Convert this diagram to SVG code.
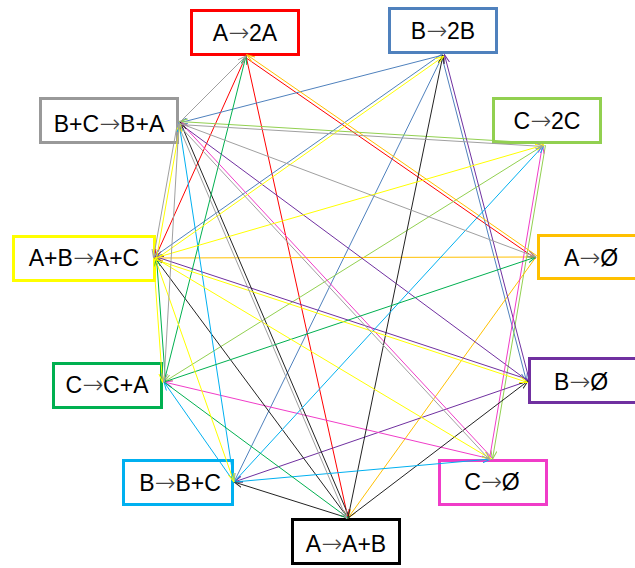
<svg xmlns="http://www.w3.org/2000/svg" width="635" height="568" viewBox="0 0 635 568">
<style>
.box{fill:#ffffff;stroke-width:3}
.lbl{font-family:"Liberation Sans",Arial,sans-serif;font-size:23px;text-anchor:middle;fill:#000}
.arw{font-family:"DejaVu Sans",sans-serif;font-size:25px;font-weight:200;fill:#444}
#connectors line{stroke-width:1;fill:none}
.r{stroke:#ff0000}.b{stroke:#4f81bd}.lg{stroke:#92d050}.o{stroke:#ffc000}.p{stroke:#7030a0}
.m{stroke:#f03cc8}.k{stroke:#222222}.c{stroke:#00b0f0}.g{stroke:#00b050}.y{stroke:#ffff00}.gr{stroke:#a0a0a0}
</style>
<defs>
<marker id="ar" viewBox="0 0 9 7" refX="8.5" refY="3.5" markerWidth="9" markerHeight="7" markerUnits="userSpaceOnUse" orient="auto"><path d="M0,0.5 L8.5,3.5 L0,6.5" fill="none" stroke="#ff0000"/></marker>
<marker id="ab" viewBox="0 0 9 7" refX="8.5" refY="3.5" markerWidth="9" markerHeight="7" markerUnits="userSpaceOnUse" orient="auto"><path d="M0,0.5 L8.5,3.5 L0,6.5" fill="none" stroke="#4f81bd"/></marker>
<marker id="alg" viewBox="0 0 9 7" refX="8.5" refY="3.5" markerWidth="9" markerHeight="7" markerUnits="userSpaceOnUse" orient="auto"><path d="M0,0.5 L8.5,3.5 L0,6.5" fill="none" stroke="#92d050"/></marker>
<marker id="ao" viewBox="0 0 9 7" refX="8.5" refY="3.5" markerWidth="9" markerHeight="7" markerUnits="userSpaceOnUse" orient="auto"><path d="M0,0.5 L8.5,3.5 L0,6.5" fill="none" stroke="#ffc000"/></marker>
<marker id="ap" viewBox="0 0 9 7" refX="8.5" refY="3.5" markerWidth="9" markerHeight="7" markerUnits="userSpaceOnUse" orient="auto"><path d="M0,0.5 L8.5,3.5 L0,6.5" fill="none" stroke="#7030a0"/></marker>
<marker id="am" viewBox="0 0 9 7" refX="8.5" refY="3.5" markerWidth="9" markerHeight="7" markerUnits="userSpaceOnUse" orient="auto"><path d="M0,0.5 L8.5,3.5 L0,6.5" fill="none" stroke="#f03cc8"/></marker>
<marker id="ak" viewBox="0 0 9 7" refX="8.5" refY="3.5" markerWidth="9" markerHeight="7" markerUnits="userSpaceOnUse" orient="auto"><path d="M0,0.5 L8.5,3.5 L0,6.5" fill="none" stroke="#222222"/></marker>
<marker id="ac" viewBox="0 0 9 7" refX="8.5" refY="3.5" markerWidth="9" markerHeight="7" markerUnits="userSpaceOnUse" orient="auto"><path d="M0,0.5 L8.5,3.5 L0,6.5" fill="none" stroke="#00b0f0"/></marker>
<marker id="ag" viewBox="0 0 9 7" refX="8.5" refY="3.5" markerWidth="9" markerHeight="7" markerUnits="userSpaceOnUse" orient="auto"><path d="M0,0.5 L8.5,3.5 L0,6.5" fill="none" stroke="#00b050"/></marker>
<marker id="ay" viewBox="0 0 9 7" refX="8.5" refY="3.5" markerWidth="9" markerHeight="7" markerUnits="userSpaceOnUse" orient="auto"><path d="M0,0.5 L8.5,3.5 L0,6.5" fill="none" stroke="#ffff00"/></marker>
<marker id="agr" viewBox="0 0 9 7" refX="8.5" refY="3.5" markerWidth="9" markerHeight="7" markerUnits="userSpaceOnUse" orient="auto"><path d="M0,0.5 L8.5,3.5 L0,6.5" fill="none" stroke="#a0a0a0"/></marker>
</defs>
<rect width="635" height="568" fill="#ffffff"/>
<g id="nodes">
<g id="n1"><rect class="box" x="191.5" y="10.5" width="107" height="44" stroke="#ff0000"/><text class="lbl" x="245" y="41">A<tspan class="arw">→</tspan>2A</text></g>
<g id="n2"><rect class="box" x="389.5" y="8.5" width="107" height="44" stroke="#4f81bd"/><text class="lbl" x="443" y="39">B<tspan class="arw">→</tspan>2B</text></g>
<g id="n3"><rect class="box" x="493.5" y="98.5" width="107" height="44" stroke="#92d050"/><text class="lbl" x="547" y="129">C<tspan class="arw">→</tspan>2C</text></g>
<g id="n4"><rect class="box" x="538.5" y="235.5" width="110" height="43" stroke="#ffc000"/><text class="lbl" x="591" y="266">A<tspan class="arw">→</tspan>Ø</text></g>
<g id="n5"><rect class="box" x="529.5" y="358.5" width="110" height="44" stroke="#7030a0"/><text class="lbl" x="581" y="390">B<tspan class="arw">→</tspan>Ø</text></g>
<g id="n6"><rect class="box" x="439.5" y="460.5" width="107" height="44" stroke="#f03cc8"/><text class="lbl" x="492" y="490">C<tspan class="arw">→</tspan>Ø</text></g>
<g id="n7"><rect class="box" x="292.5" y="519.5" width="107" height="44" stroke="#000000"/><text class="lbl" x="346" y="552">A<tspan class="arw">→</tspan>A+B</text></g>
<g id="n8"><rect class="box" x="123.5" y="460.5" width="109" height="44" stroke="#00b0f0"/><text class="lbl" x="180" y="491">B<tspan class="arw">→</tspan>B+C</text></g>
<g id="n9"><rect class="box" x="53.5" y="363.5" width="108" height="44" stroke="#00b050"/><text class="lbl" x="107" y="393">C<tspan class="arw">→</tspan>C+A</text></g>
<g id="n10"><rect class="box" x="13.5" y="236.5" width="141" height="44" stroke="#ffff00"/><text class="lbl" x="84" y="266">A+B<tspan class="arw">→</tspan>A+C</text></g>
<g id="n11"><rect class="box" x="40.5" y="98.5" width="137" height="44" stroke="#999999"/><text class="lbl" x="109" y="132">B+C<tspan class="arw">→</tspan>B+A</text></g>
</g>
<g id="connectors">
<line class="r" x1="245.15" y1="57.23" x2="535.15" y2="258.23" marker-end="url(#ar)"/>
<line class="r" x1="246" y1="56" x2="348" y2="518" marker-end="url(#ar)"/>
<line class="r" x1="246" y1="56" x2="155" y2="258" marker-end="url(#ar)"/>
<line class="b" x1="441.55" y1="55.38" x2="526.55" y2="381.38" marker-end="url(#ab)"/>
<line class="b" x1="443" y1="55" x2="234" y2="482" marker-end="url(#ab)"/>
<line class="b" x1="442.14" y1="53.77" x2="154.14" y2="256.77" marker-end="url(#ab)"/>
<line class="b" x1="443" y1="55" x2="179" y2="123" marker-end="url(#ab)"/>
<line class="lg" x1="545.48" y1="145.25" x2="492.48" y2="459.25" marker-end="url(#alg)"/>
<line class="lg" x1="544" y1="145" x2="164" y2="382" marker-end="url(#alg)"/>
<line class="lg" x1="544.09" y1="143.5" x2="179.09" y2="121.5" marker-end="url(#alg)"/>
<line class="o" x1="536.85" y1="255.77" x2="246.85" y2="54.77" marker-end="url(#ao)"/>
<line class="o" x1="536" y1="257" x2="348" y2="518" marker-end="url(#ao)"/>
<line class="o" x1="536" y1="257" x2="155" y2="258" marker-end="url(#ao)"/>
<line class="p" x1="529.45" y1="380.62" x2="444.45" y2="54.62" marker-end="url(#ap)"/>
<line class="p" x1="528" y1="381" x2="234" y2="482" marker-end="url(#ap)"/>
<line class="p" x1="528.47" y1="379.58" x2="155.47" y2="256.58" marker-end="url(#ap)"/>
<line class="p" x1="528" y1="381" x2="179" y2="123" marker-end="url(#ap)"/>
<line class="m" x1="489.52" y1="458.75" x2="542.52" y2="144.75" marker-end="url(#am)"/>
<line class="m" x1="491" y1="459" x2="164" y2="382" marker-end="url(#am)"/>
<line class="m" x1="492.1" y1="457.98" x2="180.1" y2="121.98" marker-end="url(#am)"/>
<line class="k" x1="348" y1="518" x2="443" y2="55" marker-end="url(#ak)"/>
<line class="k" x1="348" y1="518" x2="528" y2="381" marker-end="url(#ak)"/>
<line class="k" x1="348" y1="518" x2="234" y2="482" marker-end="url(#ak)"/>
<line class="k" x1="348" y1="518" x2="155" y2="258" marker-end="url(#ak)"/>
<line class="k" x1="349.38" y1="517.41" x2="180.38" y2="122.41" marker-end="url(#ak)"/>
<line class="c" x1="234" y1="482" x2="544" y2="145" marker-end="url(#ac)"/>
<line class="c" x1="234" y1="482" x2="491" y2="459" marker-end="url(#ac)"/>
<line class="c" x1="234" y1="482" x2="164" y2="382" marker-end="url(#ac)"/>
<line class="c" x1="234" y1="482" x2="179" y2="123" marker-end="url(#ac)"/>
<line class="g" x1="164" y1="382" x2="246" y2="56" marker-end="url(#ag)"/>
<line class="g" x1="164" y1="382" x2="536" y2="257" marker-end="url(#ag)"/>
<line class="g" x1="164" y1="382" x2="348" y2="518" marker-end="url(#ag)"/>
<line class="g" x1="165.5" y1="381.89" x2="156.5" y2="257.89" marker-end="url(#ag)"/>
<line class="y" x1="155.86" y1="259.23" x2="443.86" y2="56.23" marker-end="url(#ay)"/>
<line class="y" x1="155" y1="258" x2="544" y2="145" marker-end="url(#ay)"/>
<line class="y" x1="154.53" y1="259.42" x2="527.53" y2="382.42" marker-end="url(#ay)"/>
<line class="y" x1="155" y1="258" x2="491" y2="459" marker-end="url(#ay)"/>
<line class="y" x1="155" y1="258" x2="234" y2="482" marker-end="url(#ay)"/>
<line class="y" x1="153.5" y1="258.11" x2="162.5" y2="382.11" marker-end="url(#ay)"/>
<line class="y" x1="156.48" y1="258.26" x2="180.48" y2="123.26" marker-end="url(#ay)"/>
<line class="gr" x1="179" y1="123" x2="246" y2="56" marker-end="url(#agr)"/>
<line class="gr" x1="178.91" y1="124.5" x2="543.91" y2="146.5" marker-end="url(#agr)"/>
<line class="gr" x1="179" y1="123" x2="536" y2="257" marker-end="url(#agr)"/>
<line class="gr" x1="177.9" y1="124.02" x2="489.9" y2="460.02" marker-end="url(#agr)"/>
<line class="gr" x1="177.62" y1="123.59" x2="346.62" y2="518.59" marker-end="url(#agr)"/>
<line class="gr" x1="179" y1="123" x2="164" y2="382" marker-end="url(#agr)"/>
<line class="gr" x1="177.52" y1="122.74" x2="153.52" y2="257.74" marker-end="url(#agr)"/>
</g>
</svg>
